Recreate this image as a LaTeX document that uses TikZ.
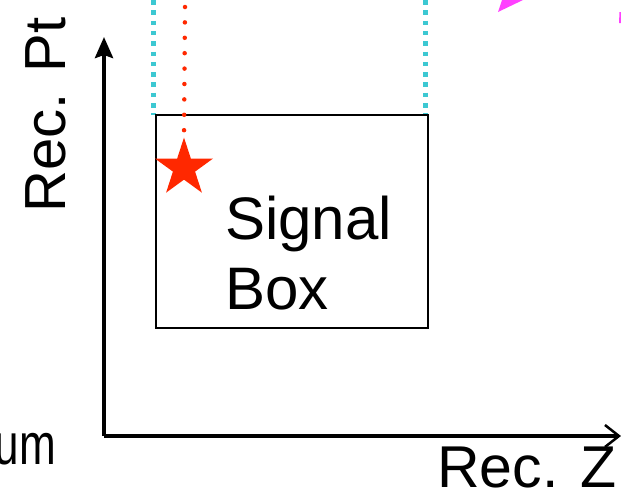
\documentclass[tikz,border=0pt]{standalone}
\usepackage{fontspec}
\setmainfont{Liberation Sans}
\usetikzlibrary{arrows.meta,shapes.geometric}
\definecolor{cyanline}{RGB}{60,200,210}
\definecolor{redmark}{RGB}{255,40,0}
\definecolor{magline}{RGB}{255,64,255}
\tikzset{
  axis/.style={line width=4pt},
  lbl/.style={inner sep=0pt, font=\fontsize{58}{70}\selectfont},
  cyandots/.style={cyanline, line width=4.5pt, dash pattern=on 4.5pt off 5.8pt},
  reddots/.style={redmark, line width=4.5pt, line cap=round, dash pattern=on 0pt off 15.4pt},
}
\begin{document}
\begin{tikzpicture}[x=1pt,y=-1pt]
\useasboundingbox (0,0) rectangle (621,493);
% helper coordinates
\coordinate (origin) at (104,436);
\coordinate (ytip) at (104,37);
\coordinate (xtip) at (621,436);
\coordinate (ctl) at (153.3,0);
\coordinate (cbl) at (153.3,115);
\coordinate (ctr) at (425.7,0);
\coordinate (cbr) at (425.7,115);
\coordinate (rtop) at (185,7);
% dotted lines
\draw[cyandots] (ctl) -- (cbl);
\draw[cyandots] (ctr) -- (cbr);
% signal box
\node[draw, line width=2.6pt, minimum width=272pt, minimum height=213pt, inner sep=0pt] (box) at (292,221.5) {};
% red dotted and star
\node[star, star points=5, star point ratio=2.618, minimum size=61pt, inner sep=0pt, fill=redmark] (star) at (184,168) {};
\draw[reddots] (rtop) -- (star.north);
% axes
\draw[axis, -{Stealth[length=21pt,width=18pt,inset=3pt]}] (origin) -- (ytip);
\draw[axis, -{Straight Barb[length=14pt,width=22pt,line width=2.5pt]}] (origin) -- (xtip);
% labels
\node[lbl, font=\fontsize{60}{70}\selectfont, align=left, anchor=north west] (sig) at (225,196) {Signal\\Box};
\node[lbl, rotate=90, anchor=base west] (ylab) at (65,213) {Rec. Pt};
\node[lbl, font=\fontsize{59}{70}\selectfont, text depth=0pt, anchor=base west] (xlab) at (437,487) {Rec. Z};
\node[lbl, text depth=0pt, anchor=base east, xscale=0.76] (um) at (56,464) {um};
% magenta fragments
\fill[magline] (498,12) -- (502,0) -- (523,0) -- cycle;
\fill[magline] (619,23) -- (619.5,12) -- (621,12) -- (621,23) -- cycle;
\end{tikzpicture}
\end{document}
